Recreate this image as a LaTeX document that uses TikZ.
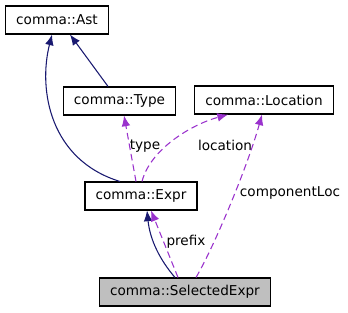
\documentclass[tikz,border=0pt]{standalone}
\usepackage{fontspec}
\setmainfont{DejaVu Sans}
\usepackage{tikz}
\usetikzlibrary{arrows.meta}
\definecolor{edgeblue}{HTML}{191970}
\definecolor{edgepurple}{HTML}{9A32CD}
\tikzset{cls/.style={draw=black,line width=0.8pt,inner xsep=8pt,minimum height=21pt,font=\fontsize{10.2}{12}\selectfont},
lbl/.style={text=black,font=\fontsize{10.2}{12}\selectfont},
inh/.style={edgeblue,line width=0.8pt,-{Latex[length=8pt,width=6.5pt]}},
use/.style={edgepurple,line width=0.8pt,dash pattern=on 5pt off 3pt,-{Latex[length=8pt,width=6.5pt]}}}
\begin{document}
\begin{tikzpicture}[x=0.75pt,y=-0.75pt]
\useasboundingbox(0,0)rectangle(348,312);
\node[cls](ast)at(57,20){comma::Ast};
\node[cls](type)at(119.5,101){comma::Type};
\node[cls](loc)at(264,100){comma::Location};
\node[cls](expr)at(141,196){comma::Expr};
\node[cls,fill={rgb,255:red,191;green,191;blue,191}](sel)at(185,292){comma::SelectedExpr};
\draw[inh]([xshift=-15.75pt]expr.north)..controls(50,160)and(38,90)..([xshift=-3.75pt]ast.south);
\draw[inh]([xshift=-8.6pt]type.north)--([xshift=9.75pt]ast.south);
\draw[use]([xshift=-3.75pt]expr.north)--([xshift=3.4pt]type.south);
\node[lbl]at(145,146){type};
\draw[use]([xshift=0.75pt]expr.north)..controls(150,150)and(190,125)..([xshift=-27pt]loc.south);
\node[lbl]at(225,145){location};
\draw[use]([xshift=8.25pt]sel.north)..controls(215,245)and(248,165)..([xshift=-1.5pt]loc.south);
\node[lbl]at(290,193){componentLoc};
\draw[inh]([xshift=-7.5pt]sel.north)..controls(160,260)and(150,240)..([xshift=4.5pt]expr.south);
\draw[use]([xshift=-5.25pt]sel.north)--([xshift=7.5pt]expr.south);
\node[lbl]at(186,242){prefix};
\end{tikzpicture}
\end{document}
